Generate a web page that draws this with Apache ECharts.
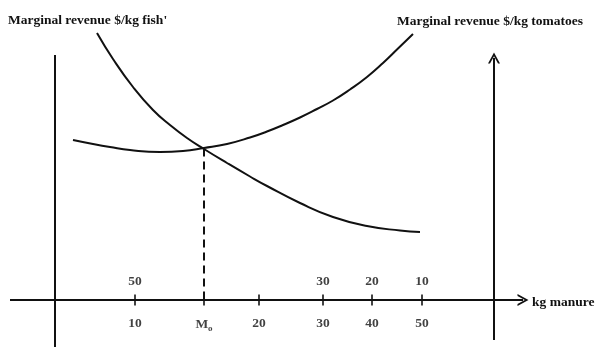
<!DOCTYPE html>
<html>
<head>
<meta charset="utf-8">
<script src="https://cdn.jsdelivr.net/npm/echarts@6/dist/echarts.min.js"></script>
<style>html,body{margin:0;padding:0;background:#fff}#c{width:600px;height:356px}</style>
</head>
<body>
<div id="c"></div>
<script>
// Curves: [x position along manure axis, marginal revenue height above axis] (arbitrary units)
const fishCurve = [[97,267],[113,241],[133,213],[153,190],[170,175],[187,162],[204,151],[227,137],[250,123.5],[267,114],[300,97],[333,83],[367,74],[400,69.5],[420,68]];
const tomatoCurve = [[73,160],[93,156],[110,153],[130,150],[160,148],[183,149],[204,152],[227,156],[250,162.5],[267,168.5],[283,175],[300,182.5],[317,191],[333,199.5],[350,210.5],[367,223],[383,237],[398,251.5],[413,266]];
// Equilibrium point M0
const mZero = [204,151.5];
// Tick positions and labels on the manure axis
const tickPos = [135,204,259,323,372,422];
const bottomLabels = ['10','M{s|o}','20','30','40','50'];
const topLabels = ['50','','','30','20','10'];
// Axis extents
const xAxisSpan = [10,523];
const leftAxisSpan = [55,-47,245];
const rightAxisSpan = [494,-40,242];
const titleFish = "Marginal revenue $/kg fish'";
const titleTomato = 'Marginal revenue $/kg tomatoes';
const xName = 'kg manure';

const FONT = "'Liberation Serif', serif";
const INK = '#111';
const chevron = 'path://M0,12 L6,0 L12,12 L10,12 L6,4 L2,12 Z';

const chart = echarts.init(document.getElementById('c'), null, {renderer:'canvas'});
const lbl = {fontFamily:FONT, fontWeight:'bold', fontSize:13.5, color:INK};
chart.setOption({
  animation:false,
  backgroundColor:'#fff',
  title:[
    {text:titleFish, left:3, top:9, textStyle:Object.assign({}, lbl)},
    {text:titleTomato, left:392, top:10, textStyle:Object.assign({}, lbl)},
    {text:xName, left:527, top:291, textStyle:Object.assign({}, lbl)}
  ],
  grid:{left:0,right:0,top:0,bottom:0},
  xAxis:{type:'value',min:0,max:600,show:false},
  yAxis:{type:'value',min:-56,max:300,show:false},
  series:[
    {type:'line', data:fishCurve, smooth:0.5, symbol:'none', lineStyle:{color:INK,width:2}},
    {type:'line', data:tomatoCurve, smooth:0.5, symbol:'none', lineStyle:{color:INK,width:2}},
    {type:'line', data:[[mZero[0],mZero[1]],[mZero[0],0]], symbol:'none', lineStyle:{color:INK,width:2,type:[8,5]}},
    {type:'line', data:[[leftAxisSpan[0],leftAxisSpan[1]],[leftAxisSpan[0],leftAxisSpan[2]]], symbol:'none', lineStyle:{color:INK,width:2}},
    {type:'line', data:[], symbol:'none',
      markLine:{silent:true, symbol:['none',chevron], symbolSize:[12,11], label:{show:false},
        lineStyle:{color:INK,width:2,type:'solid'},
        data:[
          [{coord:[rightAxisSpan[0],rightAxisSpan[1]]},{coord:[rightAxisSpan[0],rightAxisSpan[2]]}],
          [{coord:[xAxisSpan[0],0]},{coord:[xAxisSpan[1],0]}]
        ]}},
    {type:'scatter', data:tickPos.map(x=>[x,0]), symbol:'rect', symbolSize:[2,11], itemStyle:{color:INK},
      label:{show:true, position:'bottom', distance:11, formatter:p=>bottomLabels[p.dataIndex],
        fontFamily:FONT, fontWeight:'bold', fontSize:13.5, color:INK,
        rich:{s:{fontFamily:FONT, fontWeight:'bold', fontSize:9, color:INK, padding:[8,0,0,0]}}}},
    {type:'scatter', data:tickPos.map(x=>[x,0]), symbolSize:0,
      label:{show:true, position:'top', distance:11, formatter:p=>topLabels[p.dataIndex],
        fontFamily:FONT, fontWeight:'bold', fontSize:13.5, color:INK}}
  ]
});
</script>
</body>
</html>
